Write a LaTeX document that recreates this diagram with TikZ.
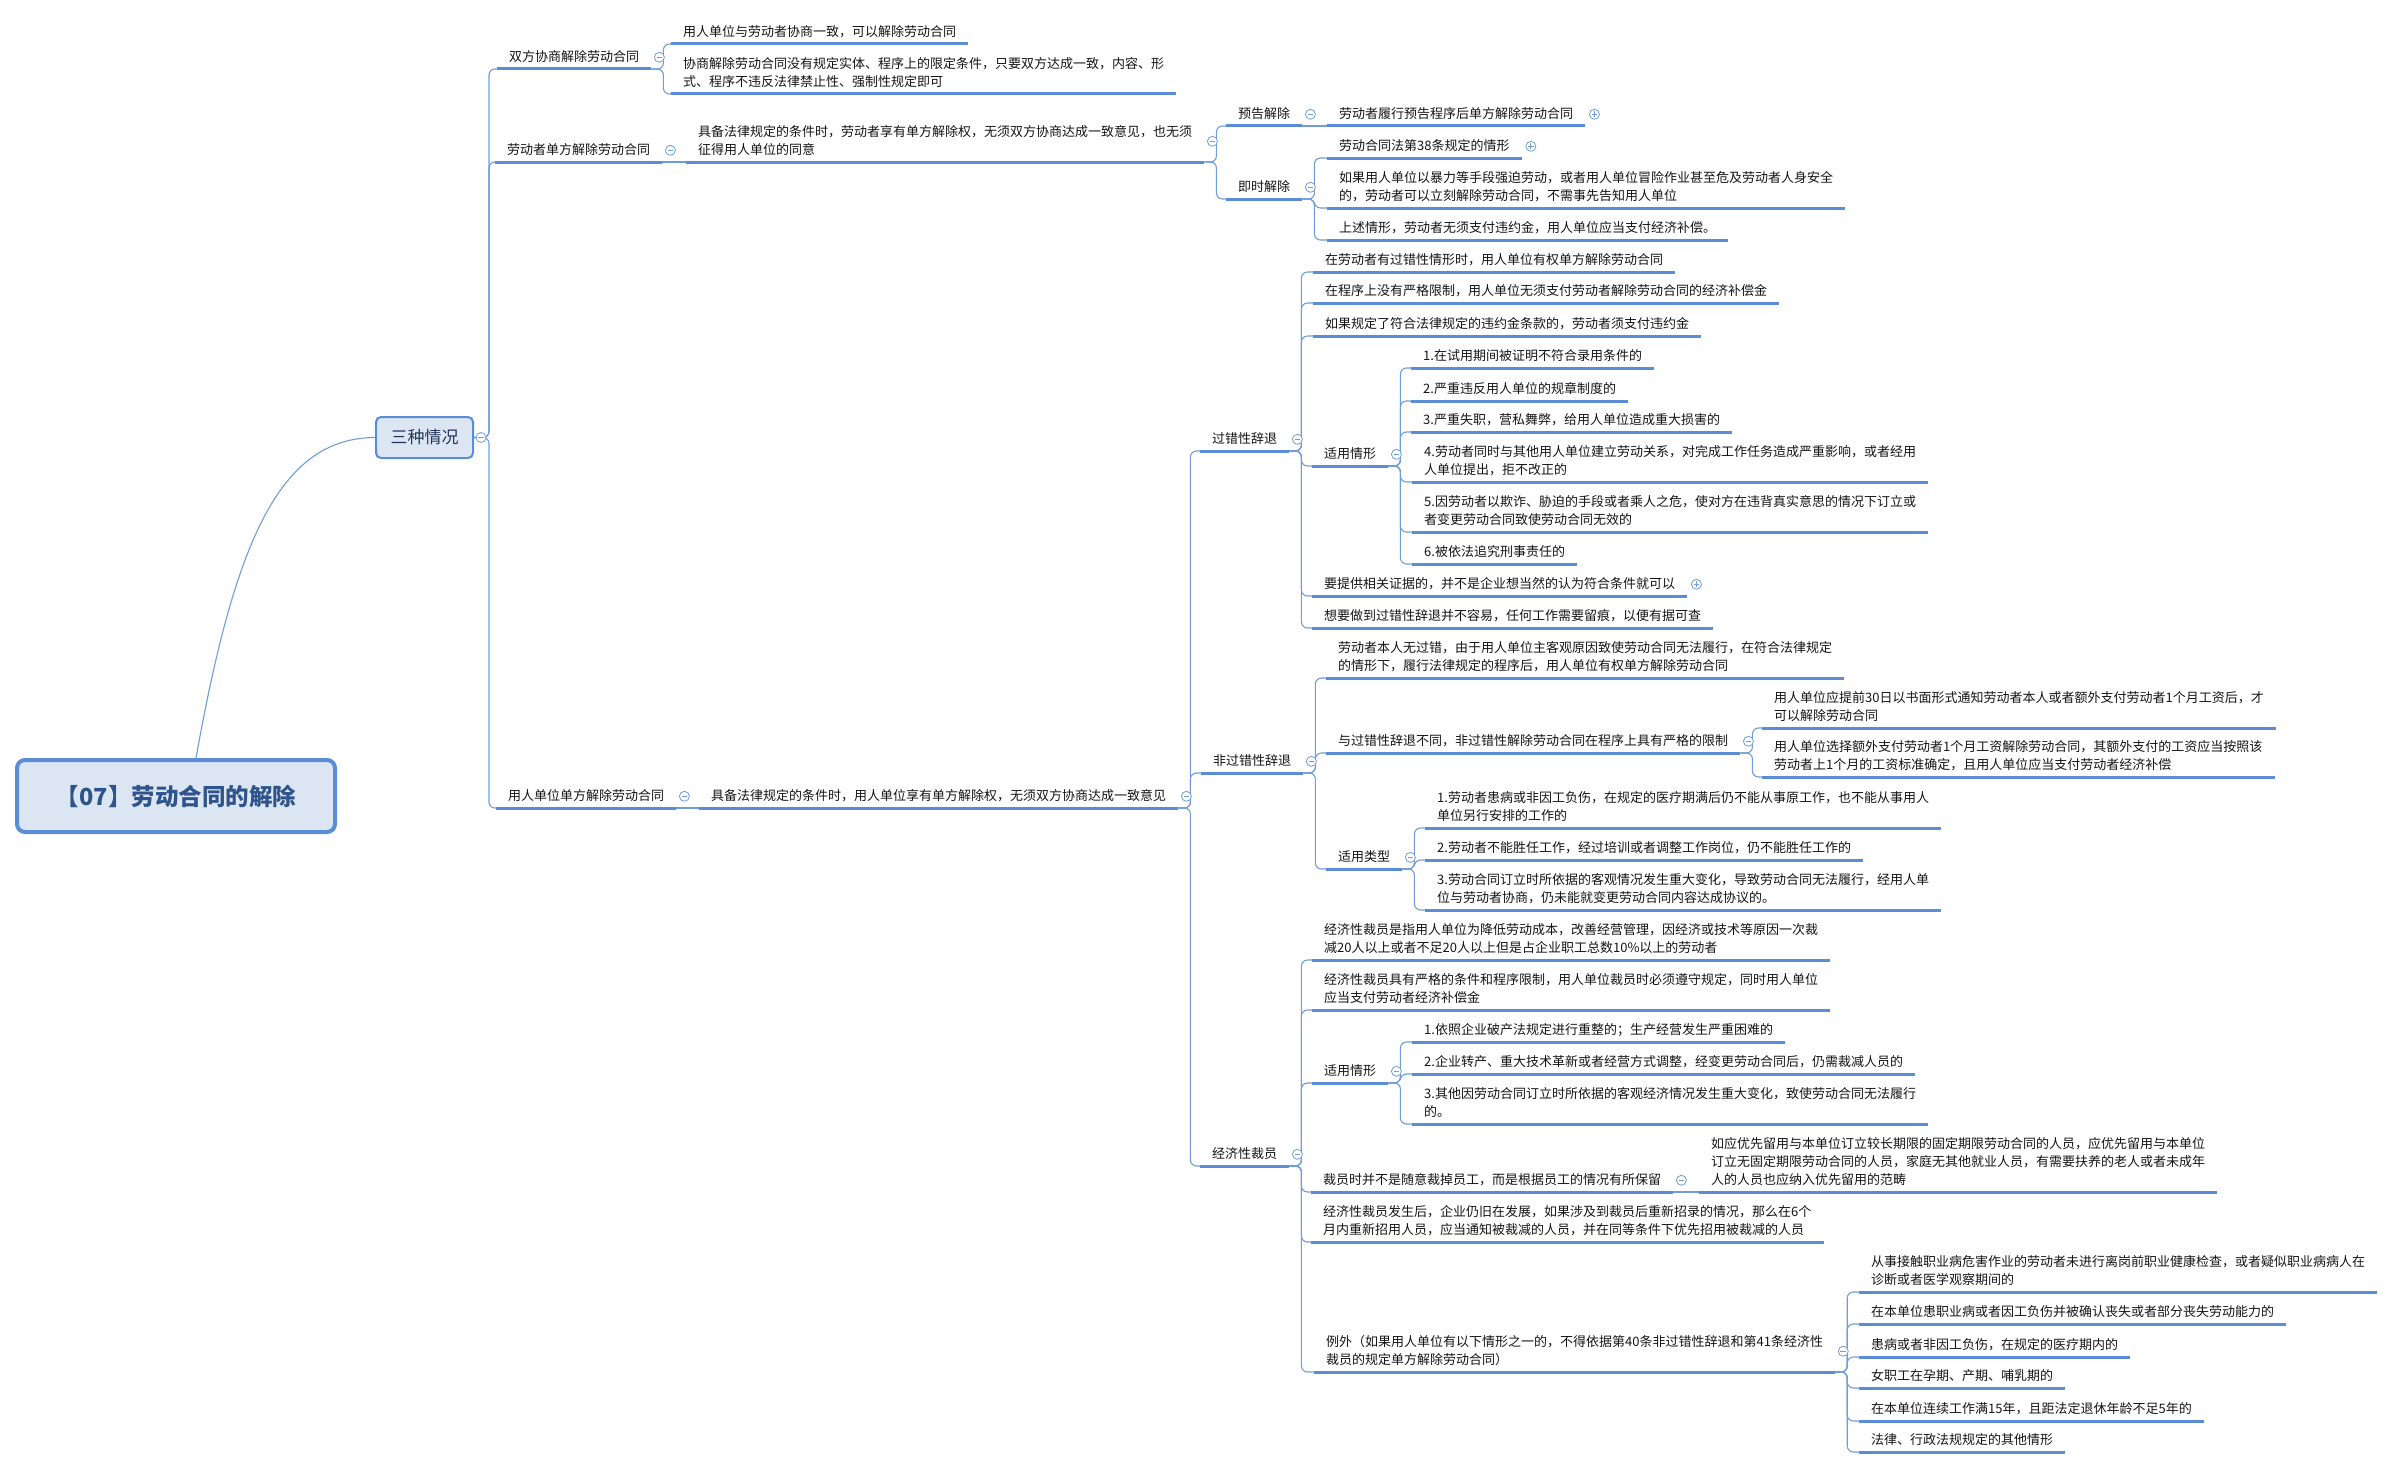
\documentclass[tikz,border=0pt]{standalone}
\usepackage{fontspec}
\setmainfont{Noto Sans CJK SC}
\usetikzlibrary{calc}
\definecolor{ublue}{RGB}{91,141,214}
\definecolor{lblue}{RGB}{112,156,218}
\definecolor{boxfill}{RGB}{220,230,242}
\definecolor{roottext}{RGB}{47,84,140}
\definecolor{subtext}{RGB}{35,55,90}
\definecolor{txt}{RGB}{20,20,20}
\tikzset{
  topic/.style={anchor=south west, inner xsep=12pt, inner ysep=4.5pt, text depth=3pt,
    align=left, font=\fontsize{13}{18}\selectfont, text=txt},
  uline/.style={draw=ublue, line width=3pt},
  conn/.style={draw=lblue, line width=1.1pt, rounded corners=6pt},
  rootlink/.style={draw=lblue, line width=1.1pt},
  rootbox/.style={rectangle, rounded corners=8pt, draw=ublue, line width=4pt, fill=boxfill,
    minimum width=318pt, minimum height=72pt, inner sep=0pt,
    font=\fontsize{23.5}{27}\selectfont\bfseries, text=roottext},
  subbox/.style={rectangle, rounded corners=5pt, draw=ublue, line width=2pt, fill=boxfill,
    minimum width=97pt, minimum height=41pt, inner sep=0pt,
    font=\fontsize{17}{20}\selectfont, text=subtext},
  cbase/.style={circle, draw=lblue, fill=white, line width=0.8pt, minimum size=10pt, inner sep=0pt},
  cminus/.style={cbase, path picture={\draw[lblue, line width=0.8pt]
    ([xshift=-2.8pt]path picture bounding box.center) -- ([xshift=2.8pt]path picture bounding box.center);}},
  cplus/.style={cbase, path picture={\draw[lblue, line width=0.8pt]
    ([xshift=-2.8pt]path picture bounding box.center) -- ([xshift=2.8pt]path picture bounding box.center)
    ([yshift=-2.8pt]path picture bounding box.center) -- ([yshift=2.8pt]path picture bounding box.center);}},
}
\newcommand{\mmlink}[3][12]{\draw[conn] (#2.south east) -- ++(#1,0) |- (#3.south west);}
\newcommand{\mmstraight}[2]{\draw[conn] (#1.south east) -- (#2.south west);}
\begin{document}
\begin{tikzpicture}[x=1pt,y=-1pt]
\useasboundingbox (0,0) rectangle (2395,1469);
% central boxes
\node[rootbox] (root) at (176,796) {【07】劳动合同的解除};
\node[subbox] (sz) at (424.5,437.5) {三种情况};
% level 1
\node[topic] (a1) at (497,69) {双方协商解除劳动合同};
\node[topic] (a2) at (495,162) {劳动者单方解除劳动合同};
\node[topic] (a3) at (496,808) {用人单位单方解除劳动合同};
% 双方
\node[topic] (a11) at (671,44) {用人单位与劳动者协商一致，可以解除劳动合同};
\node[topic] (a12) at (671,94) {协商解除劳动合同没有规定实体、程序上的限定条件，只要双方达成一致，内容、形\\式、程序不违反法律禁止性、强制性规定即可};
% 劳动者单方
\node[topic] (b1) at (686,162) {具备法律规定的条件时，劳动者享有单方解除权，无须双方协商达成一致意见，也无须\\征得用人单位的同意};
\node[topic] (b11) at (1226,126) {预告解除};
\node[topic] (b111) at (1327,126) {劳动者履行预告程序后单方解除劳动合同};
\node[topic] (b12) at (1226,199) {即时解除};
\node[topic] (b121) at (1327,158) {劳动合同法第38条规定的情形};
\node[topic] (b122) at (1327,208) {如果用人单位以暴力等手段强迫劳动，或者用人单位冒险作业甚至危及劳动者人身安全\\的，劳动者可以立刻解除劳动合同，不需事先告知用人单位};
\node[topic] (b123) at (1327,240) {上述情形，劳动者无须支付违约金，用人单位应当支付经济补偿。};
% 用人单位单方
\node[topic] (c1) at (699,808) {具备法律规定的条件时，用人单位享有单方解除权，无须双方协商达成一致意见};
\node[topic] (d1) at (1200,451) {过错性辞退};
\node[topic] (d2) at (1201,773) {非过错性辞退};
\node[topic] (d3) at (1200,1166) {经济性裁员};
% 过错性辞退
\node[topic] (d11) at (1313,272) {在劳动者有过错性情形时，用人单位有权单方解除劳动合同};
\node[topic] (d12) at (1313,303) {在程序上没有严格限制，用人单位无须支付劳动者解除劳动合同的经济补偿金};
\node[topic] (d13) at (1313,336) {如果规定了符合法律规定的违约金条款的，劳动者须支付违约金};
\node[topic] (d14) at (1312,466) {适用情形};
\node[topic] (d141) at (1411,368) {1.在试用期间被证明不符合录用条件的};
\node[topic] (d142) at (1411,401) {2.严重违反用人单位的规章制度的};
\node[topic] (d143) at (1411,432) {3.严重失职，营私舞弊，给用人单位造成重大损害的};
\node[topic] (d144) at (1412,482) {4.劳动者同时与其他用人单位建立劳动关系，对完成工作任务造成严重影响，或者经用\\人单位提出，拒不改正的};
\node[topic] (d145) at (1412,532) {5.因劳动者以欺诈、胁迫的手段或者乘人之危，使对方在违背真实意思的情况下订立或\\者变更劳动合同致使劳动合同无效的};
\node[topic] (d146) at (1412,564) {6.被依法追究刑事责任的};
\node[topic] (d15) at (1312,596) {要提供相关证据的，并不是企业想当然的认为符合条件就可以};
\node[topic] (d16) at (1312,628) {想要做到过错性辞退并不容易，任何工作需要留痕，以便有据可查};
% 非过错性辞退
\node[topic] (d21) at (1326,678) {劳动者本人无过错，由于用人单位主客观原因致使劳动合同无法履行，在符合法律规定\\的情形下，履行法律规定的程序后，用人单位有权单方解除劳动合同};
\node[topic] (d22) at (1326,753) {与过错性辞退不同，非过错性解除劳动合同在程序上具有严格的限制};
\node[topic] (d221) at (1762,728) {用人单位应提前30日以书面形式通知劳动者本人或者额外支付劳动者1个月工资后，才\\可以解除劳动合同};
\node[topic] (d222) at (1762,777) {用人单位选择额外支付劳动者1个月工资解除劳动合同，其额外支付的工资应当按照该\\劳动者上1个月的工资标准确定，且用人单位应当支付劳动者经济补偿};
\node[topic] (d23) at (1326,869) {适用类型};
\node[topic] (d231) at (1425,828) {1.劳动者患病或非因工负伤，在规定的医疗期满后仍不能从事原工作，也不能从事用人\\单位另行安排的工作的};
\node[topic] (d232) at (1425,860) {2.劳动者不能胜任工作，经过培训或者调整工作岗位，仍不能胜任工作的};
\node[topic] (d233) at (1425,910) {3.劳动合同订立时所依据的客观情况发生重大变化，导致劳动合同无法履行，经用人单\\位与劳动者协商，仍未能就变更劳动合同内容达成协议的。};
% 经济性裁员
\node[topic] (d31) at (1312,960) {经济性裁员是指用人单位为降低劳动成本，改善经营管理，因经济或技术等原因一次裁\\减20人以上或者不足20人以上但是占企业职工总数10\%以上的劳动者};
\node[topic] (d32) at (1312,1010) {经济性裁员具有严格的条件和程序限制，用人单位裁员时必须遵守规定，同时用人单位\\应当支付劳动者经济补偿金};
\node[topic] (d33) at (1312,1083) {适用情形};
\node[topic] (d331) at (1412,1042) {1.依照企业破产法规定进行重整的；生产经营发生严重困难的};
\node[topic] (d332) at (1412,1074) {2.企业转产、重大技术革新或者经营方式调整，经变更劳动合同后，仍需裁减人员的};
\node[topic] (d333) at (1412,1124) {3.其他因劳动合同订立时所依据的客观经济情况发生重大变化，致使劳动合同无法履行\\的。};
\node[topic] (d34) at (1311,1192) {裁员时并不是随意裁掉员工，而是根据员工的情况有所保留};
\node[topic] (d341) at (1699,1192) {如应优先留用与本单位订立较长期限的固定期限劳动合同的人员，应优先留用与本单位\\订立无固定期限劳动合同的人员，家庭无其他就业人员，有需要扶养的老人或者未成年\\人的人员也应纳入优先留用的范畴};
\node[topic] (d35) at (1311,1242) {经济性裁员发生后，企业仍旧在发展，如果涉及到裁员后重新招录的情况，那么在6个\\月内重新招用人员，应当通知被裁减的人员，并在同等条件下优先招用被裁减的人员};
\node[topic] (d36) at (1314,1372) {例外（如果用人单位有以下情形之一的，不得依据第40条非过错性辞退和第41条经济性\\裁员的规定单方解除劳动合同）};
\node[topic] (e1) at (1859,1292) {从事接触职业病危害作业的劳动者未进行离岗前职业健康检查，或者疑似职业病病人在\\诊断或者医学观察期间的};
\node[topic] (e2) at (1859,1324) {在本单位患职业病或者因工负伤并被确认丧失或者部分丧失劳动能力的};
\node[topic] (e3) at (1859,1357) {患病或者非因工负伤，在规定的医疗期内的};
\node[topic] (e4) at (1859,1388) {女职工在孕期、产期、哺乳期的};
\node[topic] (e5) at (1859,1421) {在本单位连续工作满15年，且距法定退休年龄不足5年的};
\node[topic] (e6) at (1859,1452) {法律、行政法规规定的其他情形};
% connectors
\draw[rootlink] ([xshift=20pt]root.north) .. controls (235,540) and (280,438) .. (sz.west);
\foreach \c in {a1,a2,a3} {\draw[conn] (sz.east) -- ++(15,0) |- (\c.south west);}
\foreach \c in {a11,a12} {\mmlink{a1}{\c}}
\mmstraight{a2}{b1}
\foreach \c in {b11,b12} {\mmlink{b1}{\c}}
\mmstraight{b11}{b111}
\foreach \c in {b121,b122,b123} {\mmlink{b12}{\c}}
\mmstraight{a3}{c1}
\foreach \c in {d1,d2,d3} {\mmlink{c1}{\c}}
\foreach \c in {d11,d12,d13,d14,d15,d16} {\mmlink{d1}{\c}}
\foreach \c in {d141,d142,d143,d144,d145,d146} {\mmlink{d14}{\c}}
\foreach \c in {d21,d22,d23} {\mmlink{d2}{\c}}
\foreach \c in {d221,d222} {\mmlink{d22}{\c}}
\foreach \c in {d231,d232,d233} {\mmlink{d23}{\c}}
\foreach \c in {d31,d32,d33,d34,d35,d36} {\mmlink{d3}{\c}}
\foreach \c in {d331,d332,d333} {\mmlink{d33}{\c}}
\mmstraight{d34}{d341}
\foreach \c in {e1,e2,e3,e4,e5,e6} {\mmlink{d36}{\c}}
% underlines
\foreach \n in {a1,a2,a3,a11,a12,b1,b11,b111,b12,b121,b122,b123,c1,d1,d2,d3,
  d11,d12,d13,d14,d141,d142,d143,d144,d145,d146,d15,d16,
  d21,d22,d221,d222,d23,d231,d232,d233,
  d31,d32,d33,d331,d332,d333,d34,d341,d35,d36,e1,e2,e3,e4,e5,e6}
  {\draw[uline] (\n.south west) -- (\n.south east);}
% collapse markers
\node[cminus] (szc) at ([xshift=7pt]sz.east) {};
\foreach \n in {a1,a2,b1,b11,b12,a3,c1,d1,d14,d2,d22,d23,d3,d33,d34,d36}
  {\node[cminus] (\n c) at ([xshift=8pt]\n.east) {};}
\foreach \n in {b111,b121,d15}
  {\node[cplus] (\n c) at ([xshift=9pt]\n.east) {};}
\end{tikzpicture}
\end{document}
